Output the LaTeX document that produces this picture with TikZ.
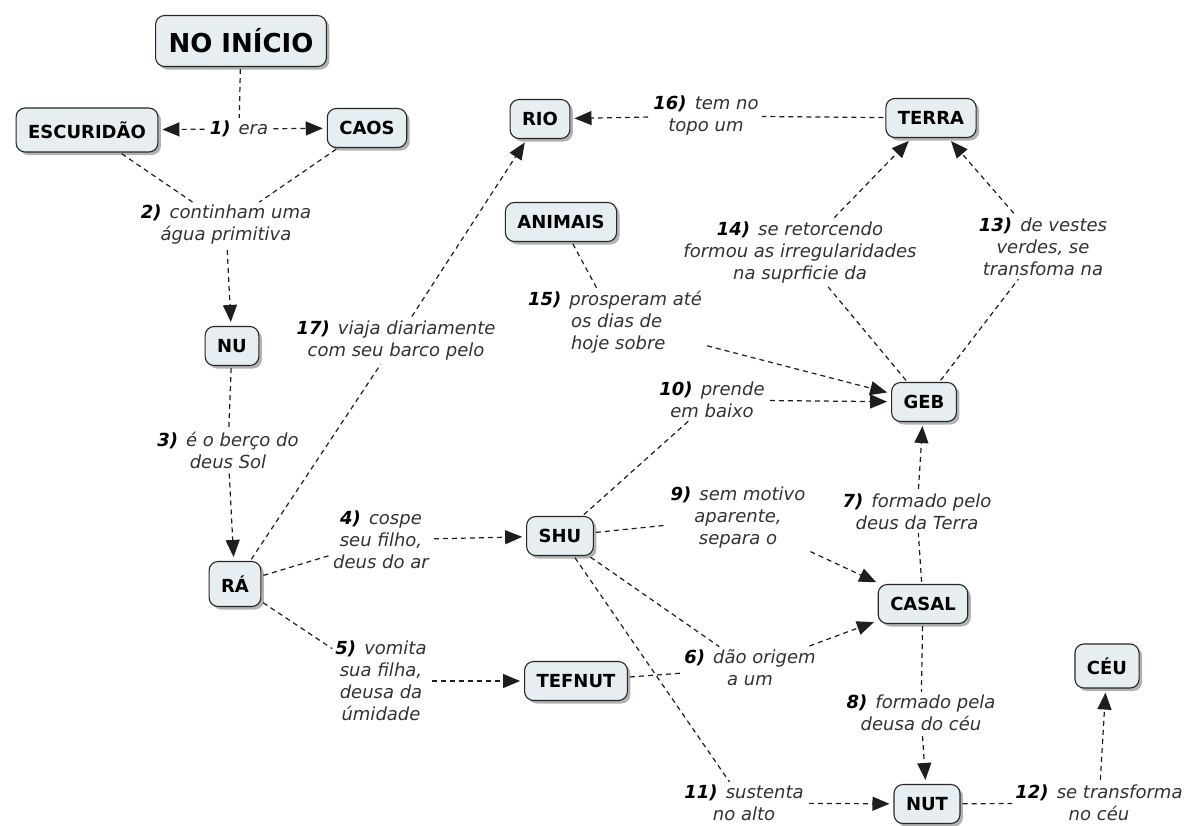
\documentclass[tikz,border=0pt]{standalone}
\usepackage{fontspec}
\setmainfont{DejaVu Sans}
\usetikzlibrary{arrows.meta,shadows}
\definecolor{cfill}{RGB}{230,238,242}
\definecolor{lblcol}{RGB}{50,50,50}
\definecolor{linecol}{RGB}{30,30,30}
\newcommand\lnum[1]{{\color{black}\bfseries #1)}\hspace{0.45em}}
\begin{document}
\begin{tikzpicture}[x=1pt,y=-1pt,
  concept/.style={draw=black!85, line width=1.1pt, fill=cfill, rounded corners=9pt,
    font=\fontsize{18}{20}\selectfont\bfseries, inner xsep=12pt, minimum height=39pt,
    drop shadow={shadow xshift=3pt,shadow yshift=-3pt,fill=black,opacity=0.3}},
  lbl/.style={align=center, font=\fontsize{18}{22}\selectfont\itshape, text=lblcol, inner sep=3pt},
  link/.style={draw=linecol, line width=1.2pt, dash pattern=on 5pt off 4pt, shorten <=2pt},
  arr/.style={link, -{Triangle[length=17pt,width=14pt]}, shorten >=4pt}
]
\fill[white] (0,0) rectangle (1189,825);
\useasboundingbox (0,0) rectangle (1189,825);

% concepts
\node[concept, font=\fontsize{26}{28}\selectfont\bfseries, minimum height=51pt, inner xsep=13pt] (inicio) at (241,41) {NO INÍCIO};
\node[concept, minimum height=44pt] (escur) at (87,130) {ESCURIDÃO};
\node[concept] (caos) at (367,128) {CAOS};
\node[concept] (nu) at (232,346) {NU};
\node[concept, minimum height=45pt] (ra) at (235,584) {RÁ};
\node[concept] (shu) at (560,536) {SHU};
\node[concept] (tefnut) at (576,681) {TEFNUT};
\node[concept] (rio) at (540,119) {RIO};
\node[concept] (terra) at (931,118) {TERRA};
\node[concept] (animais) at (561,222) {ANIMAIS};
\node[concept] (geb) at (924,402) {GEB};
\node[concept] (casal) at (923,604) {CASAL};
\node[concept] (nut) at (927,804) {NUT};
\node[concept, minimum height=44pt] (ceu) at (1107,666) {CÉU};

% linking phrases
\node[lbl] (l1) at (239,129) {\lnum{1}era};
\node[lbl] (l2) at (226,225) {\lnum{2}continham uma\\água primitiva};
\node[lbl] (l3) at (228,450) {\lnum{3}é o berço do\\deus Sol};
\node[lbl] (l4) at (381,540) {\lnum{4}cospe\\seu filho,\\deus do ar};
\node[lbl] (l5) at (381,681) {\lnum{5}vomita\\sua filha,\\deusa da\\úmidade};
\node[lbl] (l6) at (750,668) {\lnum{6}dão origem\\a um};
\node[lbl] (l7) at (917,512) {\lnum{7}formado pelo\\deus da Terra};
\node[lbl] (l8) at (921,713) {\lnum{8}formado pela\\deusa do céu};
\node[lbl] (l9) at (738,518) {\lnum{9}sem motivo\\aparente,\\separa o};
\node[lbl] (l10) at (712,400) {\lnum{10}prende\\em baixo};
\node[lbl] (l11) at (744,803) {\lnum{11}sustenta\\no alto};
\node[lbl] (l12) at (1099,803) {\lnum{12}se transforma\\no céu};
\node[lbl] (l13) at (1043,247) {\lnum{13}de vestes\\verdes, se\\transfoma na};
\node[lbl] (l14) at (800,253) {\lnum{14}se retorcendo\\formou as irregularidades\\na suprficie da};
\node[lbl, align=left] (l15) at (615,322) {\lnum{15}prosperam até\\\hspace*{43pt}os dias de\\\hspace*{43pt}hoje sobre};
\node[lbl] (l16) at (706,116) {\lnum{16}tem no\\topo um};
\node[lbl] (l17) at (396,341) {\lnum{17}viaja diariamente\\com seu barco pelo};

% connectors
\draw[link] (inicio) -- (l1);
\draw[arr] (l1) -- (escur);
\draw[arr] (l1) -- (caos);
\draw[link] (escur) -- (l2);
\draw[link] (caos) -- (l2);
\draw[arr] (l2) -- (nu);
\draw[link] (nu) -- (l3);
\draw[arr] (l3) -- (ra);
\draw[link] (ra) -- (l4);
\draw[arr] (l4) -- (shu);
\draw[link] (ra) -- (l5);
\draw[arr] (l5) -- (tefnut);
\draw[link] (ra) -- (l17);
\draw[arr] (l17) -- (rio);
\draw[link] (shu) -- (l6);
\draw[link] (tefnut) -- (l6);
\draw[arr] (l6) -- (casal);
\draw[link] (casal) -- (l7);
\draw[arr] (l7) -- (geb);
\draw[link] (casal) -- (l8);
\draw[arr] (l8) -- (nut);
\draw[link] (shu) -- (l9);
\draw[arr] (l9) -- (casal);
\draw[link] (shu) -- (l10);
\draw[arr] (l10) -- (geb);
\draw[link] (shu) -- (l11);
\draw[arr] (l11) -- (nut);
\draw[link] (nut) -- (l12);
\draw[arr] (l12) -- (ceu);
\draw[link] (geb) -- (l13);
\draw[arr] (l13) -- (terra);
\draw[link] (geb) -- (l14);
\draw[arr] (l14) -- (terra);
\draw[link] (animais) -- (l15);
\draw[arr] (l15) -- (geb);
\draw[link] (terra) -- (l16);
\draw[arr] (l16) -- (rio);
\end{tikzpicture}
\end{document}
